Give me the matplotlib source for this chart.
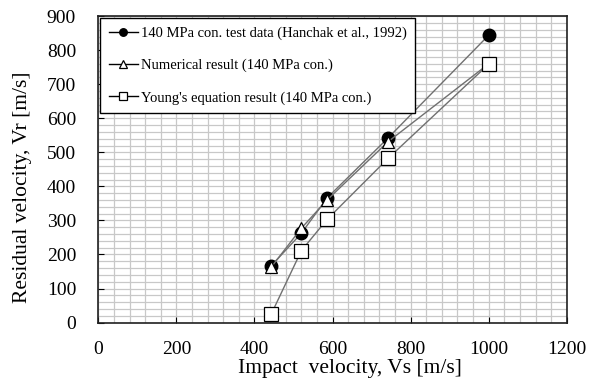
import numpy as np
import matplotlib.pyplot as plt
from matplotlib.ticker import MultipleLocator

plt.rcParams['font.family'] = ['Liberation Serif', 'DejaVu Serif']

# impact velocity (m/s)
vs = [443, 520, 586, 742, 1000]
# residual velocities (m/s)
vr_test = [167, 262, 366, 542, 844]
vr_num = [163, 277, 360, 531, 760]
vr_young = [25, 211, 303, 482, 759]

fig = plt.figure(figsize=(5.96, 3.84), dpi=100)
ax = fig.add_axes([0.165, 0.160, 0.786, 0.798])

line_col = '#707070'
ax.plot(vs, vr_test, '-', color=line_col, lw=1.0, marker='o', ms=9,
        mfc='black', mec='black', label='140 MPa con. test data (Hanchak et al., 1992)', zorder=4)
ax.plot(vs, vr_num, '-', color=line_col, lw=1.0, marker='^', ms=9,
        mfc='white', mec='black', mew=0.9, label='Numerical result (140 MPa con.)', zorder=5)
ax.plot(vs, vr_young, '-', color=line_col, lw=1.0, marker='s', ms=9.5,
        mfc='white', mec='black', mew=0.9, label="Young's equation result (140 MPa con.)", zorder=6)

ax.set_xlim(0, 1200)
ax.set_ylim(0, 900)
ax.xaxis.set_major_locator(MultipleLocator(200))
ax.xaxis.set_minor_locator(MultipleLocator(40))
ax.yaxis.set_major_locator(MultipleLocator(100))
ax.yaxis.set_minor_locator(MultipleLocator(20))
ax.grid(True, which='both', color='#c8c8c8', lw=0.9, zorder=0)
ax.set_axisbelow(True)
ax.tick_params(which='major', direction='in', length=4, labelsize=14)
ax.tick_params(axis='x', which='major', pad=13)
ax.tick_params(axis='y', which='major', pad=16)
ax.tick_params(which='minor', length=0)
for s in ax.spines.values():
    s.set_linewidth(1.2)
    s.set_color('#202020')

ax.set_xlabel('Impact  velocity, Vs [m/s]', fontsize=15.5)
ax.set_ylabel('Residual velocity, Vr [m/s]', fontsize=15.5)
ax.xaxis.set_label_coords(0.537, -0.118)
ax.yaxis.set_label_coords(-0.142, 0.44)

# legend: line handles with gray-black line and marker
leg = ax.legend(loc='upper left', fontsize=10.5, frameon=True, fancybox=False,
                borderaxespad=0.1, handlelength=2.0, handletextpad=0.2,
                labelspacing=1.3, borderpad=0.6, markerscale=0.6)
leg.get_frame().set_edgecolor('black')
leg.get_frame().set_linewidth(1.0)
leg.get_frame().set_alpha(1)
for h in leg.legend_handles:
    h.set_color('black')

fig.savefig('out.png', dpi=100)
